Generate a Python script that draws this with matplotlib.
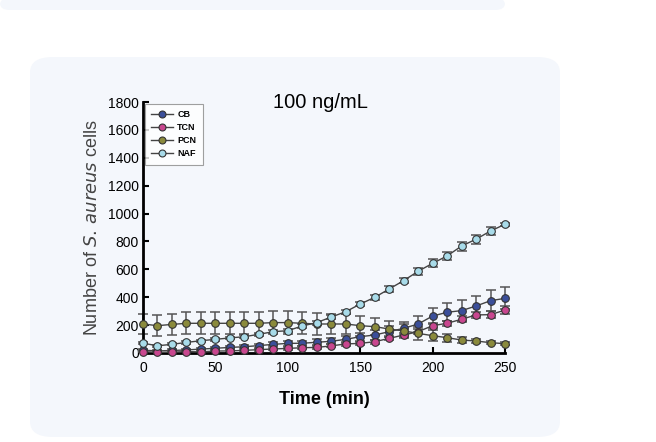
import matplotlib
import matplotlib.pyplot as plt
import numpy as np
from matplotlib.patches import FancyBboxPatch

matplotlib.use("Agg")
plt.rcParams["font.family"] = ["Liberation Sans", "DejaVu Sans"]

# time points (min)
time = list(range(0, 251, 10))

# mean cell counts
cb = [20, 15, 18, 22, 28, 34, 40, 45, 53, 62, 69, 70, 77, 84,
      98, 117, 129, 153, 177, 208, 265, 292, 304, 337, 375, 392]
tcn = [10, 4, 6, 10, 8, 14, 15, 19, 24, 29, 33, 38, 40, 51,
       65, 69, 81, 105, 129, 153, 196, 213, 242, 273, 275, 308]
pcn = [208, 196, 205, 213, 213, 213, 213, 213, 213, 218, 218, 213, 208, 208,
       208, 196, 189, 172, 158, 141, 124, 110, 93, 86, 74, 67]
naf = [70, 52, 62, 76, 88, 98, 108, 117, 134, 153, 160, 194, 218, 258,
       296, 351, 399, 459, 519, 586, 643, 696, 767, 816, 875, 923]

# error bars (SD)
cb_err = [8, 8, 8, 8, 10, 10, 12, 12, 14, 15, 16, 18, 20, 22,
          25, 30, 35, 40, 45, 55, 55, 64, 76, 74, 77, 80]
tcn_err = [5, 5, 5, 5, 5, 6, 6, 6, 7, 8, 8, 9, 10, 10,
           12, 12, 14, 15, 16, 18, 20, 20, 22, 24, 24, 26]
pcn_err = [75, 75, 78, 78, 80, 80, 80, 80, 80, 80, 80, 80, 78, 75,
           72, 72, 60, 55, 50, 45, 38, 28, 22, 16, 12, 10]
naf_err = [8, 8, 8, 8, 8, 10, 10, 10, 10, 12, 12, 12, 14, 14,
           15, 15, 16, 18, 20, 25, 28, 30, 32, 32, 30, 12]

labels = ["CB", "TCN", "PCN", "NAF"]
colors = ["#3b4f9a", "#c8478f", "#8a8a3c", "#a8dbe9"]

fig = plt.figure(figsize=(6.56, 4.42), dpi=100)

# page panels behind the chart
fig.patches.append(FancyBboxPatch((30 / 656, 5 / 442), 530 / 656, 380 / 442,
                                  boxstyle="round,pad=0,rounding_size=0.035",
                                  transform=fig.transFigure, facecolor="#f4f7fc",
                                  edgecolor="none", zorder=-5))
fig.patches.append(FancyBboxPatch((0, 432 / 442), 505 / 656, 12 / 442,
                                  boxstyle="round,pad=0,rounding_size=0.015",
                                  transform=fig.transFigure, facecolor="#f4f7fc",
                                  edgecolor="none", zorder=-5))

ax = fig.add_axes([143 / 656, 89 / 442, 362 / 656, 251 / 442])
ax.set_zorder(2)
ax.patch.set_alpha(0)

for y, err, lab, col in zip([cb, tcn, pcn, naf], [cb_err, tcn_err, pcn_err, naf_err],
                            labels, colors):
    ax.errorbar(time, y, yerr=err, fmt="none", ecolor="#555555", elinewidth=1.1,
                capsize=3.5, capthick=1.1, clip_on=False, zorder=2)
    ax.plot(time, y, "-o", color="#444444", lw=1, markersize=5.5,
            markerfacecolor=col, markeredgecolor="#333333", markeredgewidth=0.8,
            label=lab, clip_on=False, zorder=3)

ax.set_xlim(0, 250)
ax.set_ylim(0, 1800)
ax.set_xticks([0, 50, 100, 150, 200, 250])
ax.set_yticks(range(0, 1801, 200))
ax.tick_params(direction="in", length=4, width=1.5, labelsize=10)
ax.tick_params(axis="y", pad=3)
ax.tick_params(axis="x", pad=6)
for s in ["top", "right"]:
    ax.spines[s].set_visible(False)
for s in ["left", "bottom"]:
    ax.spines[s].set_linewidth(2)

ax.set_xlabel("Time (min)", fontsize=13, fontweight="bold", labelpad=11)
ax.set_ylabel("Number of $\\it{S.\\,aureus}$ cells", fontsize=13,
              color="#444444", labelpad=5)
ax.set_title("100 ng/mL", fontsize=14.5, pad=0, x=0.49, y=0.975)

leg = ax.legend(loc="upper left", bbox_to_anchor=(0.0, 1.0),
                prop={"weight": "bold", "size": 6.5}, frameon=True, fancybox=False,
                edgecolor="#888888", handlelength=2.4, borderpad=0.7,
                labelspacing=0.45, handletextpad=0.5, borderaxespad=0.2)
leg.get_frame().set_linewidth(0.8)
for h in leg.legend_handles:
    h.set_markersize(5)

fig.savefig("out.png", dpi=100, facecolor="white")
